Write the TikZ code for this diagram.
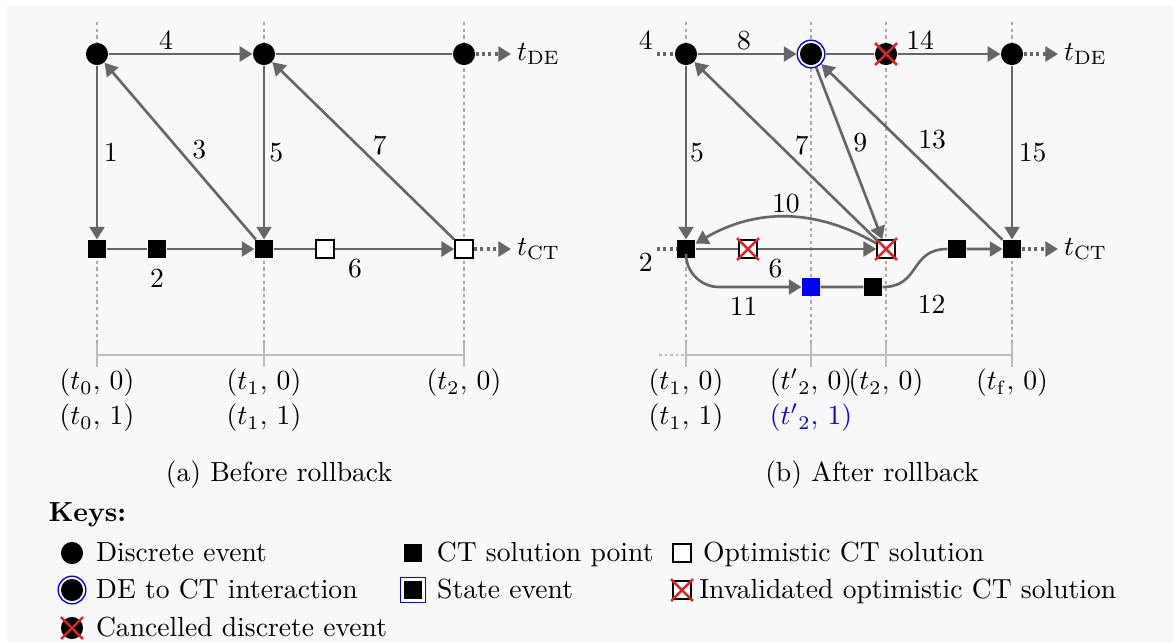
\documentclass[tikz,border=0pt]{standalone}
\usepackage{amsmath}
\usepackage{tikz}
\usepackage{xcolor}
\usetikzlibrary{positioning,arrows.meta}
\definecolor{paperbg}{HTML}{F8F8F8}
\definecolor{edgegrey}{HTML}{666666}
\definecolor{guidegrey}{HTML}{AAAAAA}
\definecolor{axisgrey}{HTML}{BBBBBB}
\definecolor{cancelred}{HTML}{D62728}
\definecolor{stateblue}{HTML}{0000FF}
\tikzset{
  ev/.style    ={circle, fill=black, minimum size=8pt, inner sep=0pt},
  evint/.style ={circle, draw=stateblue, line width=0.5pt, fill=white,
    minimum size=10pt, inner sep=0pt,
    path picture={\fill[black] (path picture bounding box.center) circle (4pt);}},
  ct/.style    ={rectangle, fill=black, minimum size=6.5pt, inner sep=0pt},
  opt/.style   ={rectangle, draw=black, line width=0.6pt, fill=white,
    minimum size=6.5pt, inner sep=0pt},
  stev/.style  ={ct, fill=stateblue},
  stkey/.style ={rectangle, draw=stateblue, line width=0.5pt, fill=white,
    minimum size=9pt, inner sep=0pt,
    path picture={\fill[black] ([shift={(-3.25pt,-3.25pt)}]path picture bounding box.center) rectangle ++(6.5pt,6.5pt);}},
  cancelled/.style={draw=cancelred, line width=0.9pt},
  xout/.style  ={append after command={
    ([shift={(-#1,#1)}]\tikzlastnode.north west) edge[cancelled] ([shift={(#1,-#1)}]\tikzlastnode.south east)
    ([shift={(#1,#1)}]\tikzlastnode.north east) edge[cancelled] ([shift={(-#1,-#1)}]\tikzlastnode.south west)}},
  evx/.style   ={ev, xout=1pt},
  inval/.style ={opt, xout=0.4pt},
  flow/.style  ={-{Triangle[length=4.6pt,width=5.4pt]}, draw=edgegrey, line width=0.95pt},
  plainline/.style={draw=edgegrey, line width=0.95pt},
  dotflow/.style={flow, line width=1.1pt, dash pattern=on 1.1pt off 1.2pt},
  dotline/.style={plainline, line width=1.1pt, dash pattern=on 1.1pt off 1.2pt},
  lbl/.style   ={inner sep=1pt},
  guide/.style ={draw=guidegrey, line width=0.5pt, dash pattern=on 1.2pt off 1.2pt},
  timeaxis/.style={draw=axisgrey, line width=1pt},
  keytxt/.style={inner sep=1pt, text height=1.6ex, text depth=0.25ex},
}

\begin{document}
\begin{tikzpicture}[x=0.362pt, y=-0.362pt]
\useasboundingbox (0,0) rectangle (1173,642);
\fill[paperbg] (7,6) rectangle (1173,642);

% time guides and axes
\foreach \gx in {97,264,464,686,811,886,1012}
  \draw[guide] (\gx,22) -- (\gx,343);
\draw[timeaxis] (97,355) -- (464,355);
\foreach \gx in {97,264,464}
  \draw[timeaxis] (\gx,343) -- (\gx,367);
\draw[timeaxis, dash pattern=on 1pt off 1pt] (659,355) -- (686,355);
\draw[timeaxis] (686,355) -- (1012,355);
\foreach \gx in {686,811,886,1012}
  \draw[timeaxis] (\gx,343) -- (\gx,367);

% (a) before rollback
\node[ev] (d0) at (97,54) {};
\node[ev] (d1) at (264,54) {};
\node[ev] (d2) at (464,54) {};
\node[ct] (c0) at (97,249) {};
\node[ct] (c0m) at (157,249) {};
\node[ct] (c1) at (264,249) {};
\node[opt] (o1) at (325,249) {};
\node[opt] (o2) at (464,249) {};
\node[anchor=west, inner sep=2pt] (tdeA) at (511,54) {$t_{\mathrm{DE}}$};
\node[anchor=west, inner sep=2pt] (tctA) at (511,249) {$t_{\mathrm{CT}}$};

\draw[flow] (d0) -- node[lbl, above, pos=0.4] {4} (d1);
\draw[plainline] (d1) -- (d2);
\draw[dotflow] (d2) -- (tdeA);
\draw[flow] (d0) -- node[lbl, right=1pt] {1} (c0);
\draw[flow] (c1) -- node[lbl, right=3.5pt, pos=0.51] {3} (d0);
\draw[flow] (d1) -- node[lbl, right=0.5pt] {5} (c1);
\draw[flow] (o2) -- node[lbl, right=4pt, pos=0.53] {7} (d1);
\draw[flow] (c0) -- (c0m) -- (c1);
\node[lbl, below=2.6pt of c0m] (lab2) {2};
\draw[flow] (c1) -- (o1) -- node[lbl, below=2pt, pos=0.17] {6} (o2);
\draw[dotflow] (o2) -- (tctA);

\node (lt0a) at (97,383) {$(t_0,\, 0)$};
\node (lt0b) at (97,418) {$(t_0,\, 1)$};
\node (lt1a) at (264,383) {$(t_1,\, 0)$};
\node (lt1b) at (264,418) {$(t_1,\, 1)$};
\node (lt2a) at (464,383) {$(t_2,\, 0)$};
\node (capA) at (279,475) {(a) Before rollback};

% (b) after rollback
\coordinate (in4) at (657,54);
\coordinate (in2) at (657,249);
\node[ev] (e1) at (686,54) {};
\node[evint] (e2) at (811,54) {};
\node[evx] (e3) at (886,54) {};
\node[ev] (e4) at (1012,54) {};
\node[ct] (s1) at (686,249) {};
\node[inval] (x1) at (748,249) {};
\node[inval] (x2) at (886,249) {};
\node[ct] (s3) at (957,249) {};
\node[ct] (s4) at (1012,249) {};
\node[stev] (b1) at (811,287) {};
\node[ct] (b2) at (873,287) {};
\node[anchor=west, inner sep=2pt] (tdeB) at (1058,54) {$t_{\mathrm{DE}}$};
\node[anchor=west, inner sep=2pt] (tctB) at (1058,249) {$t_{\mathrm{CT}}$};

\draw[dotline] (in4) node[lbl, above left] {4} -- (e1);
\draw[dotline] (in2) node[lbl, below left] {2} -- (s1);
\draw[flow] (e1) -- node[lbl, above, pos=0.47] {8} (e2);
\draw[flow] (e2) -- (e3) -- node[lbl, above, pos=0.22] {14} (e4);
\draw[dotflow] (e4) -- (tdeB);
\draw[flow] (e1) -- node[lbl, right=0pt] {5} (s1);
\draw[flow] (x2) -- node[lbl, right=4pt, pos=0.53] {7} (e1);
\draw[flow] (e2) -- node[lbl, right=1.5pt, pos=0.44] {9} (x2);
\draw[flow] (s4) -- node[lbl, right=5.4pt, pos=0.57] {13} (e2);
\draw[flow] (e4) -- node[lbl, right=1pt] {15} (s4);
\draw[flow] (x2) to[bend right=30] node[lbl, above] {10} (s1);
\draw[flow] (s1) -- (x1) -- node[lbl, below=2pt, pos=0.15] {6} (x2);
\draw[flow, rounded corners=12pt] (s1) |- node[lbl, below=2pt, pos=0.75] {11} (b1);
\draw[flow] (b1) -- (b2) to[out=0, in=180, looseness=1.3] node[lbl, pos=0.2, below right=2.9pt and 4.9pt] {12} (s3) -- (s4);
\draw[dotflow] (s4) -- (tctB);

\node (lr1a) at (686,383) {$(t_1,\, 0)$};
\node (lr1b) at (686,418) {$(t_1,\, 1)$};
\node (lr2pa) at (811,383) {$({t'}_2,\, 0)$};
\node[text=stateblue] (lr2pb) at (811,418) {$({t'}_2,\, 1)$};
\node (lr2a) at (886,383) {$(t_2,\, 0)$};
\node (lrfa) at (1012,383) {$(t_{\mathrm{f}},\, 0)$};
\node (capB) at (872,475) {(b) After rollback};

% keys
\node[font=\bfseries, anchor=west, inner sep=0pt] (keys) at (48,515) {Keys:};
\node[ev] (k1) at (72,553) {};
\node[keytxt, right=3.3pt of k1] (k1t) {Discrete event};
\node[evint] (k2) at (72,590) {};
\node[keytxt, right=2.2pt of k2] (k2t) {DE to CT interaction};
\node[evx] (k3) at (72,628) {};
\node[keytxt, right=3.3pt of k3] (k3t) {Cancelled discrete event};
\node[ct] (k4) at (413,553) {};
\node[keytxt, right=4pt of k4] (k4t) {CT solution point};
\node[stkey] (k5) at (413,590) {};
\node[keytxt, right=2.8pt of k5] (k5t) {State event};
\node[opt] (k6) at (682,553) {};
\node[keytxt, right=2.9pt of k6] (k6t) {Optimistic CT solution};
\node[inval] (k7) at (682,590) {};
\node[keytxt, right=1.5pt of k7] (k7t) {Invalidated optimistic CT solution};

\end{tikzpicture}
\end{document}
